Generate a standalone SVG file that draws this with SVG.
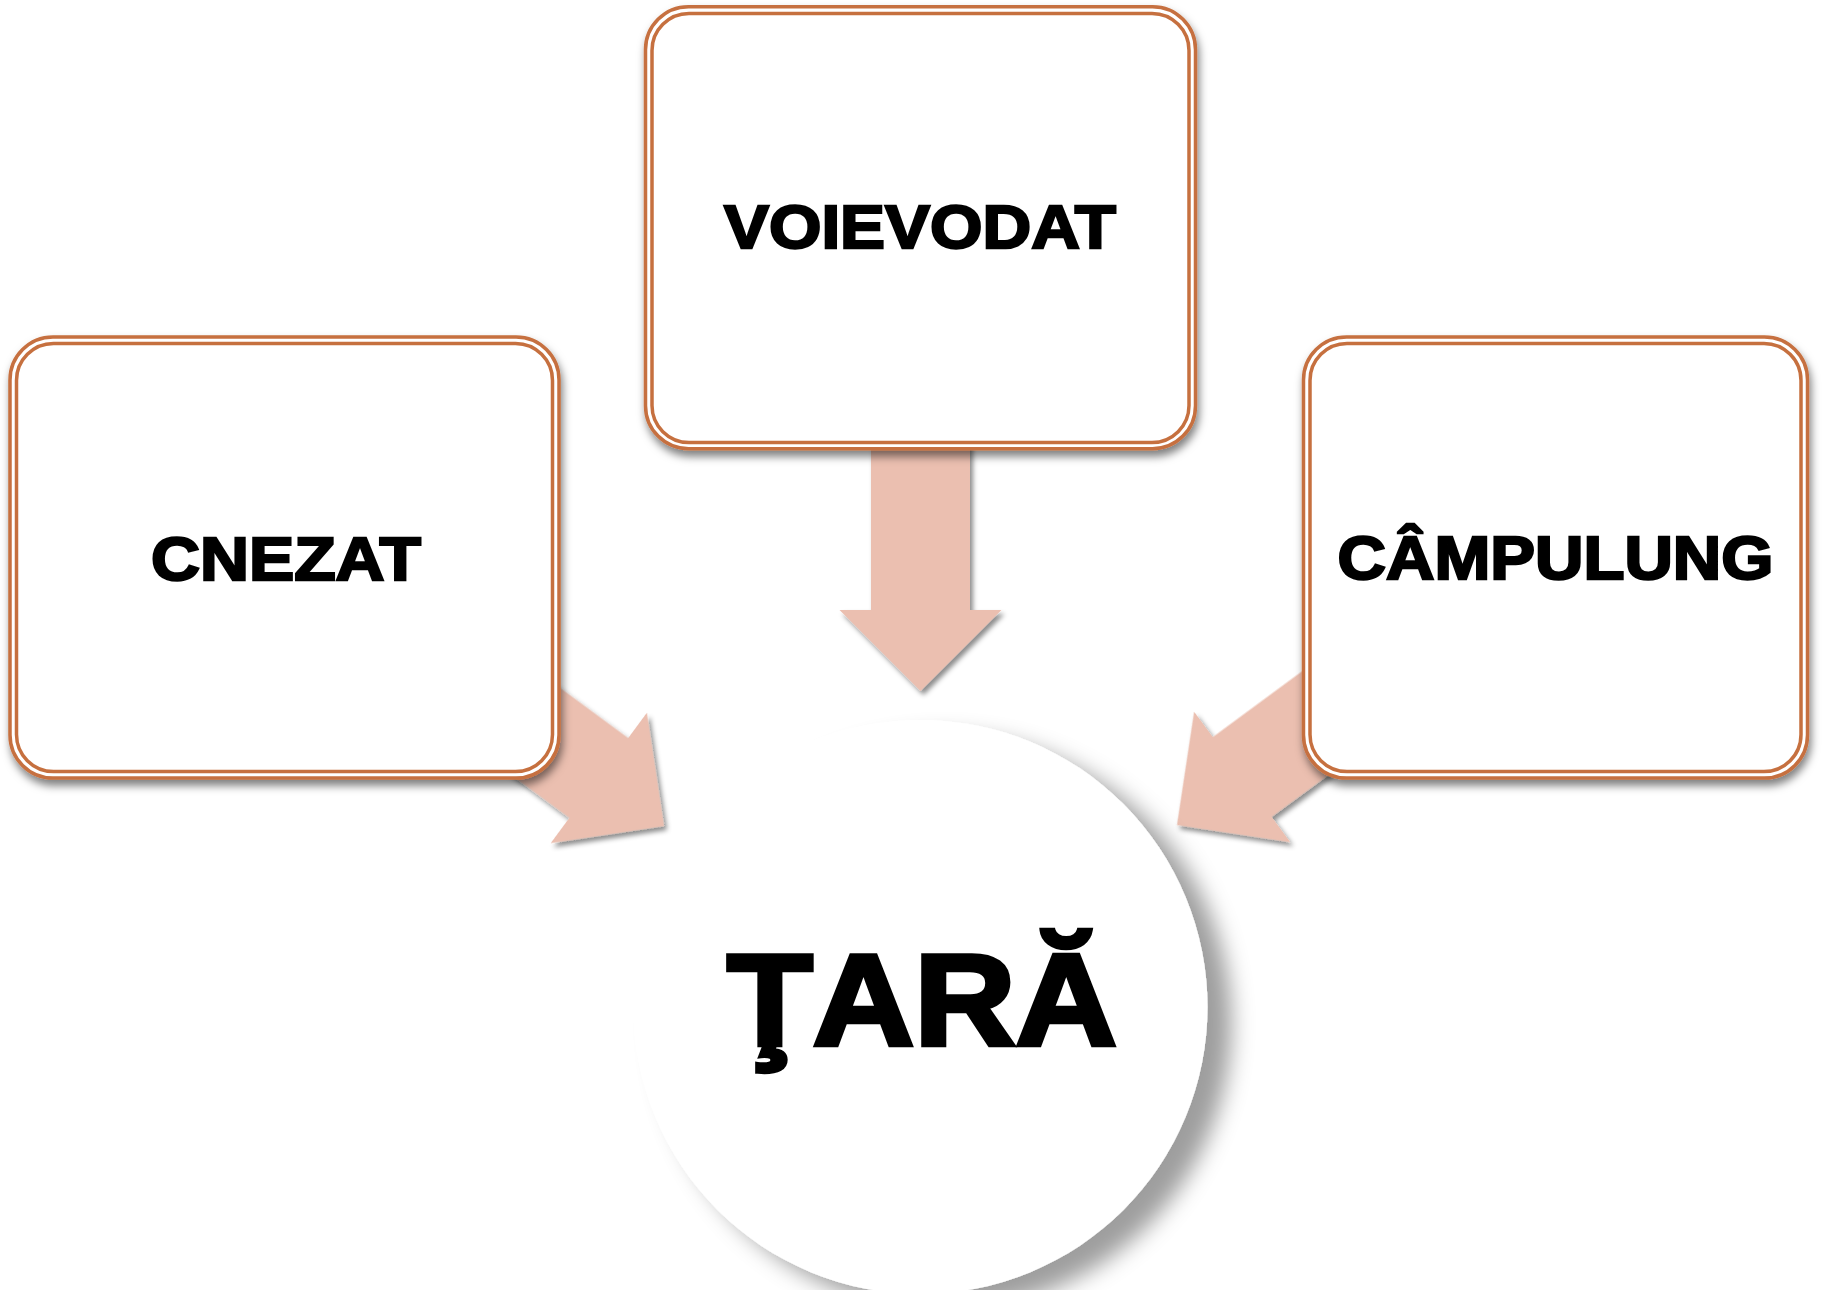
<svg xmlns="http://www.w3.org/2000/svg" width="1825" height="1290" viewBox="0 0 1825 1290">
  <defs>
    <filter id="boxShadow" x="-10%" y="-10%" width="125%" height="130%">
      <feDropShadow dx="2" dy="6" stdDeviation="4" flood-color="#000" flood-opacity="0.5"/>
    </filter>
    <filter id="arrowShadow" x="-20%" y="-20%" width="150%" height="150%">
      <feDropShadow dx="3" dy="4" stdDeviation="2.5" flood-color="#000" flood-opacity="0.45"/>
    </filter>
    <filter id="circleShadow" x="-20%" y="-20%" width="150%" height="150%">
      <feDropShadow dx="24" dy="16" stdDeviation="11" flood-color="#000" flood-opacity="0.38"/>
    </filter>
    <path id="arrowShape" d="M0,0 L-81,-81 L-49.5,-81 L-49.5,-260 L49.5,-260 L49.5,-81 L81,-81 Z"/>
  </defs>
  <style>
    .arrow { fill: #EBBFB0; }
    .outer { fill: #FFFFFF; stroke: #C6703F; stroke-width: 3.5; }
    .inner { fill: none; stroke: #C6703F; stroke-width: 3.5; }
    .lbl { font-family: "Liberation Sans", Arial, sans-serif; font-weight: bold; fill: #000; stroke: #000; text-anchor: middle; }
    .small { font-size: 62px; stroke-width: 2.4; }
    .big { font-size: 130px; stroke-width: 4.5; }
  </style>
  <rect x="0" y="0" width="1825" height="1290" fill="#FFFFFF"/>

  <g id="connectors">
    <g filter="url(#arrowShadow)">
      <use href="#arrowShape" class="arrow" transform="translate(920.5,691)"/>
      <use href="#arrowShape" class="arrow" transform="translate(664,826) rotate(-53.6)"/>
      <use href="#arrowShape" class="arrow" transform="translate(1177,825) rotate(53.6)"/>
    </g>
  </g>

  <g id="node-voievodat">
    <rect class="outer" x="645.5" y="6.7" width="550" height="442" rx="43" filter="url(#boxShadow)"/>
    <rect class="inner" x="652" y="13.5" width="537" height="429" rx="37"/>
    <text class="lbl small" x="920" y="248" textLength="392" lengthAdjust="spacingAndGlyphs">VOIEVODAT</text>
  </g>

  <g id="node-cnezat">
    <rect class="outer" x="10" y="337" width="549" height="441" rx="43" filter="url(#boxShadow)"/>
    <rect class="inner" x="16.5" y="343.5" width="536" height="428" rx="37"/>
    <text class="lbl small" x="286" y="579.5" textLength="270" lengthAdjust="spacingAndGlyphs">CNEZAT</text>
  </g>

  <g id="node-campulung">
    <rect class="outer" x="1303.5" y="337" width="504" height="441" rx="43" filter="url(#boxShadow)"/>
    <rect class="inner" x="1310" y="343.5" width="491" height="428" rx="37"/>
    <text class="lbl small" x="1555.5" y="578.5" textLength="436" lengthAdjust="spacingAndGlyphs">CÂMPULUNG</text>
  </g>

  <g id="node-tara">
    <circle cx="920.5" cy="1007" r="287" fill="#FFFFFF" filter="url(#circleShadow)"/>
    <text class="lbl big" x="922" y="1045" textLength="390" lengthAdjust="spacingAndGlyphs">ŢARĂ</text>
  </g>
</svg>
